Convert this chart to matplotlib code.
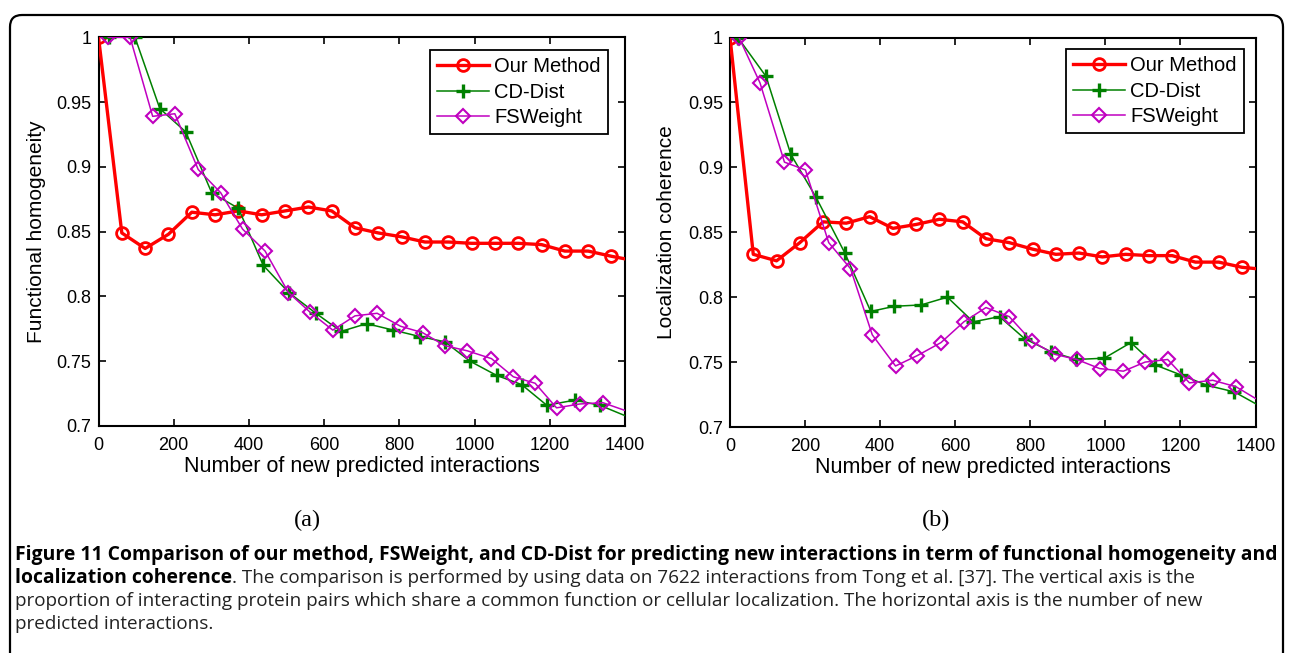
import matplotlib
matplotlib.use("Agg")
import matplotlib.pyplot as plt
from matplotlib.patches import FancyBboxPatch
from matplotlib.transforms import IdentityTransform

# ---------------- data ----------------
series_names = ["Our Method", "CD-Dist", "FSWeight"]

# (a) Functional homogeneity
a_ours_x = [0, 62, 124, 186, 248, 310, 372, 434, 496, 558, 620, 682, 744, 806, 868,
            930, 992, 1054, 1116, 1178, 1240, 1302, 1364, 1400]
a_ours_y = [1.0, 0.849, 0.837, 0.848, 0.865, 0.863, 0.866, 0.863, 0.866, 0.869, 0.866,
            0.853, 0.849, 0.846, 0.842, 0.842, 0.841, 0.841, 0.841, 0.840, 0.835, 0.835,
            0.831, 0.829]
a_cd_x = [28, 97, 163, 232, 301, 372, 438, 506, 578, 645, 713, 784, 855, 921, 988,
          1059, 1125, 1192, 1267, 1333, 1400]
a_cd_y = [1.0, 1.0, 0.945, 0.927, 0.880, 0.868, 0.824, 0.803, 0.787, 0.773, 0.779,
          0.774, 0.769, 0.765, 0.750, 0.739, 0.732, 0.716, 0.720, 0.716, 0.708]
a_fs_x = [26, 84, 144, 203, 265, 325, 383, 443, 505, 562, 623, 682, 741, 803, 862,
          921, 981, 1045, 1103, 1161, 1218, 1280, 1341, 1400]
a_fs_y = [1.0, 1.0, 0.939, 0.941, 0.898, 0.880, 0.852, 0.835, 0.803, 0.788, 0.774,
          0.785, 0.787, 0.777, 0.772, 0.762, 0.758, 0.752, 0.738, 0.733, 0.714, 0.717,
          0.718, 0.712]

# (b) Localization coherence
b_ours_x = a_ours_x
b_ours_y = [1.0, 0.833, 0.828, 0.842, 0.858, 0.857, 0.862, 0.853, 0.856, 0.860, 0.858,
            0.845, 0.842, 0.837, 0.833, 0.834, 0.831, 0.833, 0.832, 0.832, 0.827, 0.827,
            0.823, 0.822]
b_cd_x = [21, 96, 162, 229, 306, 375, 438, 509, 579, 648, 718, 785, 855, 922, 997,
          1068, 1131, 1202, 1272, 1344, 1400]
b_cd_y = [1.0, 0.970, 0.910, 0.877, 0.834, 0.789, 0.793, 0.794, 0.800, 0.781, 0.785,
          0.768, 0.758, 0.752, 0.753, 0.765, 0.748, 0.740, 0.732, 0.727, 0.718]
b_fs_x = [24, 80, 145, 201, 263, 321, 379, 441, 499, 562, 623, 682, 744, 804, 865,
          924, 985, 1048, 1106, 1166, 1224, 1286, 1348, 1400]
b_fs_y = [1.0, 0.965, 0.904, 0.898, 0.842, 0.822, 0.771, 0.747, 0.755, 0.765, 0.781,
          0.792, 0.785, 0.766, 0.756, 0.752, 0.745, 0.743, 0.750, 0.752, 0.734, 0.736,
          0.731, 0.722]

x_ticks = [0, 200, 400, 600, 800, 1000, 1200, 1400]
y_ticks = [0.7, 0.75, 0.8, 0.85, 0.9, 0.95, 1.0]
y_tick_labels = ["0.7", "0.75", "0.8", "0.85", "0.9", "0.95", "1"]
x_label = "Number of new predicted interactions"
y_labels = ["Functional homogeneity", "Localization coherence"]
panel_labels = ["(a)", "(b)"]

caption_bold1 = ("Figure 11 Comparison of our method, FSWeight, and CD-Dist for predicting "
                 "new interactions in term of functional homogeneity and")
caption_bold2 = "localization coherence"
caption_reg2 = (". The comparison is performed by using data on 7622 interactions from "
                "Tong et al. [37]. The vertical axis is the")
caption_reg3 = ("proportion of interacting protein pairs which share a common function or "
                "cellular localization. The horizontal axis is the number of new")
caption_reg4 = "predicted interactions."

# ---------------- style ----------------
W, H = 1293, 653
plt.rcParams["font.family"] = ["Liberation Sans", "DejaVu Sans"]
fig = plt.figure(figsize=(W / 100, H / 100), dpi=100)
fig.patch.set_facecolor("white")

RED = "#ff0000"
GREEN = "#008000"
MAG = "#c000c0"

def px_axes(x0, x1, ytop, ybot):
    return [x0 / W, 1 - ybot / H, (x1 - x0) / W, (ybot - ytop) / H]

axes_rects = [px_axes(98.5, 625, 37.3, 426), px_axes(730, 1255.5, 37.5, 427)]
legend_anchor = [(0.967, 0.967), (0.978, 0.970)]
data = [
    (a_ours_x, a_ours_y, a_cd_x, a_cd_y, a_fs_x, a_fs_y),
    (b_ours_x, b_ours_y, b_cd_x, b_cd_y, b_fs_x, b_fs_y),
]
panel_x = [307, 936]

for i in range(2):
    ax = fig.add_axes(axes_rects[i])
    ox, oy, cx, cy, fx, fy = data[i]
    ax.plot(ox, oy, color=RED, lw=2.4, marker="o", ms=8.5, mfc="none", mew=2.0,
            markevery=list(range(len(ox) - 1)), label=series_names[0], zorder=3)
    ax.plot(cx, cy, color=GREEN, lw=1.1, marker="+", ms=10, mew=2.4,
            markevery=list(range(len(cx) - 1)), label=series_names[1], zorder=4)
    ax.plot(fx, fy, color=MAG, lw=1.1, marker="D", ms=7, mfc="none", mew=1.5,
            markevery=list(range(len(fx) - 1)), label=series_names[2], zorder=5)
    ax.set_xlim(0, 1400)
    ax.set_ylim(0.7, 1.0)
    ax.set_xticks(x_ticks)
    ax.set_xticklabels([str(t) for t in x_ticks])
    ax.set_yticks(y_ticks)
    ax.set_yticklabels(y_tick_labels)
    ax.tick_params(direction="in", length=5, width=1.2, top=True, right=True,
                   labelsize=13, colors="black")
    ax.tick_params(axis="x", pad=8)
    ax.tick_params(axis="y", pad=5)
    for sp in ax.spines.values():
        sp.set_linewidth(1.5)
        sp.set_color("black")
    ax.set_xlabel(x_label, fontsize=15.5)
    ax.xaxis.set_label_coords(0.5, -0.103)
    ax.xaxis.label.set_va("center")
    ax.set_ylabel(y_labels[i], fontsize=15)
    ax.yaxis.set_label_coords(-0.117 if i == 0 else -0.12, 0.5)
    ax.yaxis.label.set_va("center")
    leg = ax.legend(loc="upper right", bbox_to_anchor=legend_anchor[i],
                    borderaxespad=0, fontsize=14.5, handlelength=2.6,
                    labelspacing=0.32, handletextpad=0.25, borderpad=0.35,
                    fancybox=False, framealpha=1, edgecolor="black")
    leg.get_frame().set_linewidth(1.3)
    fig.text(panel_x[i] / W, 1 - 520 / H, panel_labels[i],
             family=["Liberation Serif", "DejaVu Serif"], fontsize=17.5,
             ha="center", va="center")

# ---------------- caption ----------------
renderer = fig.canvas.get_renderer()
cap_family = ["Open Sans", "DejaVu Sans"]

def text_width(s, size, weight):
    t = fig.text(0, 0, s, family=cap_family, fontsize=size, weight=weight)
    w = t.get_window_extent(renderer).width
    t.remove()
    return w

left_px = 15
bold_size = 12.0 * (1263 / text_width(caption_bold1, 12.0, "bold"))
reg_size = 12.0 * (1185 / text_width(caption_reg3, 12.0, "normal"))

line_y = [555, 578, 601, 624]
fig.text(left_px / W, 1 - line_y[0] / H, caption_bold1, family=cap_family,
         fontsize=bold_size, weight="bold", va="center", ha="left")
tb = fig.text(left_px / W, 1 - line_y[1] / H, caption_bold2, family=cap_family,
              fontsize=bold_size, weight="bold", va="center", ha="left")
bw = tb.get_window_extent(renderer).width
fig.text((left_px + bw) / W, 1 - line_y[1] / H, caption_reg2, family=cap_family,
         fontsize=reg_size, va="center", ha="left", color="#222222")
fig.text(left_px / W, 1 - line_y[2] / H, caption_reg3, family=cap_family,
         fontsize=reg_size, va="center", ha="left", color="#222222")
fig.text(left_px / W, 1 - line_y[3] / H, caption_reg4, family=cap_family,
         fontsize=reg_size, va="center", ha="left", color="#222222")

# ---------------- rounded border ----------------
border = FancyBboxPatch((10, -30), 1273, 653 - 15 + 30,
                        boxstyle="round,pad=0,rounding_size=12",
                        transform=IdentityTransform(), fill=False,
                        edgecolor="black", linewidth=1.6)
fig.add_artist(border)

fig.savefig("out.png", dpi=100)
